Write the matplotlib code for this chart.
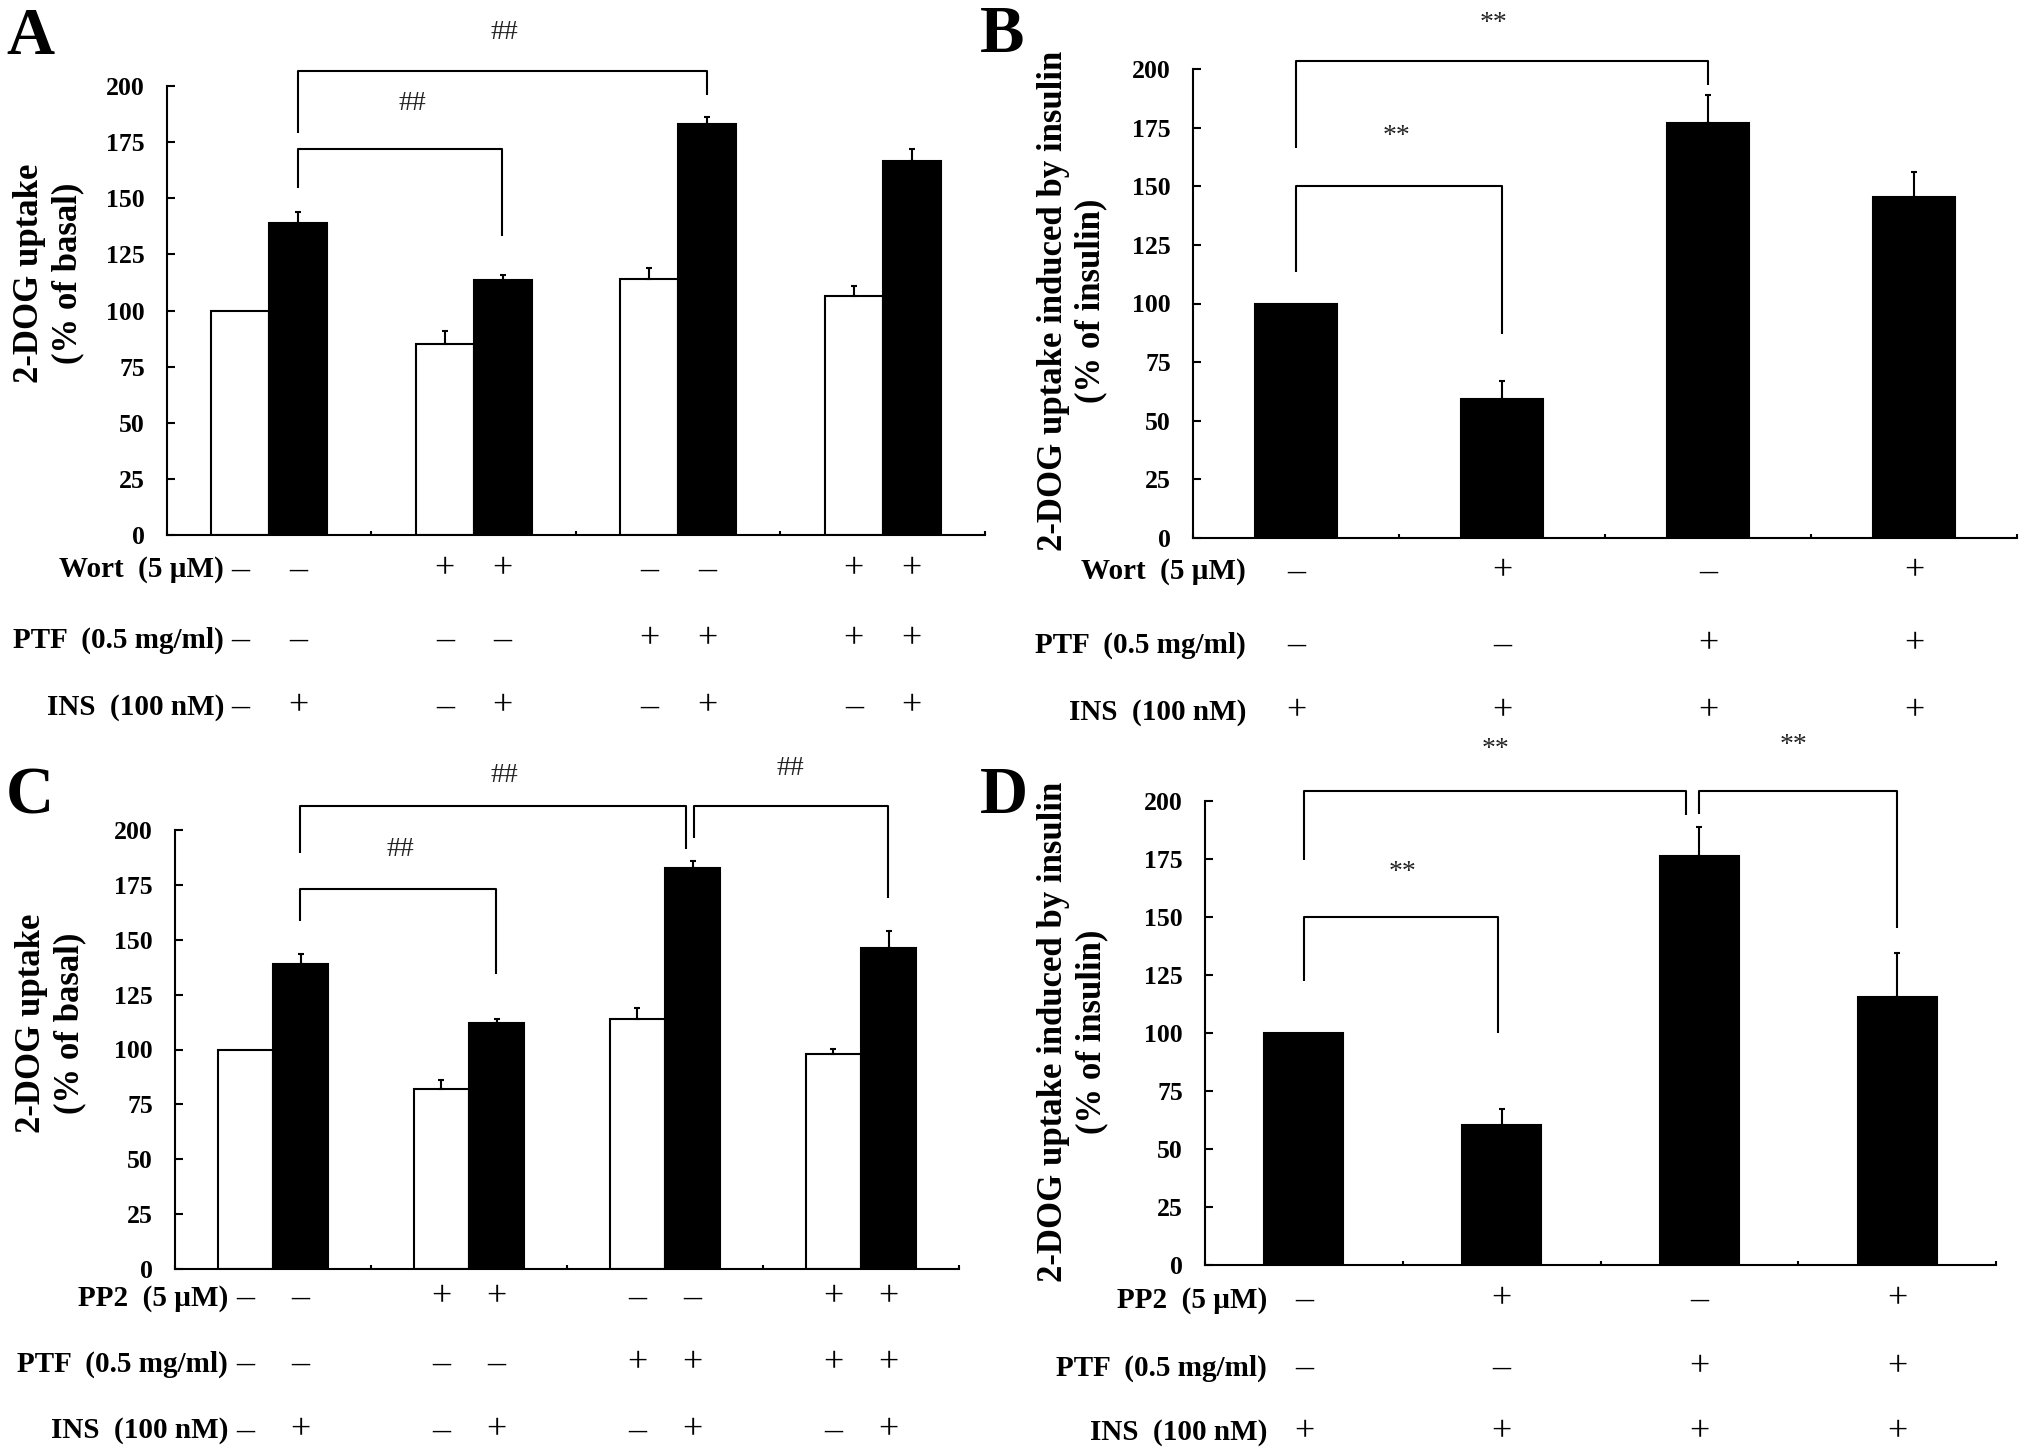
import numpy as np
import matplotlib
matplotlib.use("Agg")
import matplotlib.pyplot as plt
from matplotlib.transforms import blended_transform_factory

# ---------------- data ----------------
yticks = [0, 25, 50, 75, 100, 125, 150, 175, 200]

A_white = [100, 85.2, 114.0, 106.5]
A_white_err = [0, 5.8, 4.8, 4.4]
A_black = [139.1, 113.6, 183.2, 166.4]
A_black_err = [4.9, 2.3, 2.9, 5.6]

B_vals = [100, 59.2, 176.8, 145.4]
B_err = [0, 7.7, 12.3, 10.5]

C_white = [100, 82.0, 114.0, 98.1]
C_white_err = [0, 4.0, 4.7, 2.3]
C_black = [139.1, 111.9, 182.8, 146.1]
C_black_err = [4.6, 2.1, 3.0, 7.8]

D_vals = [100, 60.5, 176.2, 115.4]
D_err = [0, 6.6, 12.6, 18.9]

A_rows = ["Wort  (5 \u00b5M)", "PTF  (0.5 mg/ml)", "INS  (100 nM)"]
C_rows = ["PP2  (5 \u00b5M)", "PTF  (0.5 mg/ml)", "INS  (100 nM)"]
AC_signs = [["\u2013", "\u2013", "+", "+", "\u2013", "\u2013", "+", "+"],
            ["\u2013", "\u2013", "\u2013", "\u2013", "+", "+", "+", "+"],
            ["\u2013", "+", "\u2013", "+", "\u2013", "+", "\u2013", "+"]]
BD_signs = [["\u2013", "+", "\u2013", "+"],
            ["\u2013", "\u2013", "+", "+"],
            ["+", "+", "+", "+"]]

ylabel_basal = "2-DOG uptake\n(% of basal)"
ylabel_ins = "2-DOG uptake induced by insulin\n(% of insulin)"

# ---------------- figure ----------------
W, H = 2031, 1456
plt.rcParams['font.family'] = ['Liberation Serif', 'DejaVu Serif']
plt.rcParams['font.weight'] = 'bold'
fig = plt.figure(figsize=(W / 100, H / 100), dpi=100)
fig.patch.set_facecolor('white')

LW = 1.5
w = 0.283


def add_axes(l, r, t, b):
    return fig.add_axes([l / W, 1 - b / H, (r - l) / W, (b - t) / H])


def setup(ax):
    ax.set_xlim(-0.5, 3.5)
    ax.set_ylim(0, 200)
    for s in ['top', 'right']:
        ax.spines[s].set_visible(False)
    for s in ['left', 'bottom']:
        ax.spines[s].set_linewidth(LW)
    ax.set_yticks(yticks)
    ax.set_xticks([-0.5, 0.5, 1.5, 2.5, 3.5])
    ax.set_xticklabels([])
    ax.tick_params(axis='y', direction='in', length=6, width=LW, pad=16,
                   labelsize=18.5)
    ax.tick_params(axis='x', direction='in', length=3, width=LW)
    for lab in ax.get_yticklabels():
        lab.set_fontweight('bold')


def ebar(ax, x, vals, errs):
    x = np.asarray(x, float)
    vals = np.asarray(vals, float)
    errs = np.asarray(errs, float)
    m = errs > 0
    ax.errorbar(x[m], vals[m], yerr=[np.zeros(m.sum()), errs[m]], fmt='none',
                ecolor='black', elinewidth=LW, capsize=2.5, capthick=LW)


def brackets(ax, specs, sym):
    for x1, x2, top, lb, rb, tx, ty in specs:
        ax.plot([x1, x1, x2, x2], [lb, top, top, rb], color='black', lw=LW,
                clip_on=False, solid_capstyle='butt')
        ax.text(tx, ty, sym, ha='center', va='center', fontsize=20,
                fontweight='normal', color='#222222', clip_on=False)


def sign_rows(ax, cols, rows, signs, ys, label_right):
    trans = blended_transform_factory(ax.transData, fig.transFigure)
    for lab, row, y in zip(rows, signs, ys):
        fig.text(label_right / W, 1 - y / H, lab, ha='right', va='center',
                 fontsize=21, fontweight='bold')
        for xc, s in zip(cols, row):
            ax.text(xc, 1 - y / H, s, transform=trans, ha='center',
                    va='center', fontsize=26, fontweight='normal')


def grouped(ax, white, werr, black, berr):
    x = np.arange(len(white))
    ax.bar(x - w, white, width=w, align='edge', color='white',
           edgecolor='black', linewidth=LW, zorder=2)
    ax.bar(x, black, width=w, align='edge', color='black',
           edgecolor='black', linewidth=LW, zorder=2)
    ebar(ax, x - w / 2, white, werr)
    ebar(ax, x + w / 2, black, berr)
    cols = []
    for xi in x:
        cols += [xi - w / 2, xi + w / 2]
    return cols


def single(ax, vals, errs):
    x = np.arange(len(vals))
    ax.bar(x, vals, width=0.4, color='black', edgecolor='black',
           linewidth=LW, zorder=2)
    ebar(ax, x, vals, errs)
    return list(x)


# ---------------- panel A ----------------
axA = add_axes(167, 985, 86, 535)
setup(axA)
colsA = grouped(axA, A_white, A_white_err, A_black, A_black_err)
brackets(axA, [(0.14, 2.14, 206.6, 178.9, 195.9, 1.15, 223.8),
               (0.14, 1.14, 171.8, 154.4, 133.0, 0.70, 192.3)], "##")
sign_rows(axA, colsA, A_rows, AC_signs, [570, 640, 707], 224)

# ---------------- panel B ----------------
axB = add_axes(1193, 2017, 69, 538)
setup(axB)
colsB = single(axB, B_vals, B_err)
brackets(axB, [(0, 2, 203.6, 166.4, 193.0, 0.96, 219.5),
               (0, 1, 150.1, 113.6, 86.8, 0.49, 171.4)], "**")
sign_rows(axB, colsB, A_rows, BD_signs, [572, 645, 712], 1246)

# ---------------- panel C ----------------
axC = add_axes(175, 959, 830, 1269)
setup(axC)
colsC = grouped(axC, C_white, C_white_err, C_black, C_black_err)
brackets(axC, [(0.14, 2.107, 211, 189.4, 191.5, 1.18, 225),
               (2.148, 3.14, 211, 196.4, 169.2, 2.64, 228),
               (0.14, 1.14, 173, 158.6, 134.2, 0.65, 190.9)], "##")
sign_rows(axC, colsC, C_rows, AC_signs, [1298, 1364, 1431], 228)

# ---------------- panel D ----------------
axD = add_axes(1205, 1996, 801, 1265)
setup(axD)
colsD = single(axD, D_vals, D_err)
brackets(axD, [(0, 1.93, 204.4, 174.7, 193.8, 0.97, 222.4),
               (2.0, 3.0, 204.4, 194.4, 145.3, 2.475, 224),
               (0, 0.98, 150.1, 122.2, 99.8, 0.50, 169.3)], "**")
sign_rows(axD, colsD, C_rows, BD_signs, [1300, 1368, 1433], 1267)

# ---------------- y labels ----------------
for (xc, yc, txt) in [(49, 273, ylabel_basal), (1072, 301, ylabel_ins),
                      (51, 1023, ylabel_basal), (1073, 1032, ylabel_ins)]:
    fig.text(xc / W, 1 - yc / H, txt, rotation=90, ha='center', va='center',
             multialignment='center', fontsize=25, fontweight='bold',
             linespacing=1.2)

# ---------------- panel letters ----------------
for (xl, yb, L) in [(6, 54, 'A'), (980, 52, 'B'), (6, 814, 'C'), (980, 813, 'D')]:
    fig.text(xl / W, 1 - yb / H, L, ha='left', va='baseline', fontsize=48,
             fontweight='bold')

fig.savefig('out.png', dpi=100, facecolor='white')
